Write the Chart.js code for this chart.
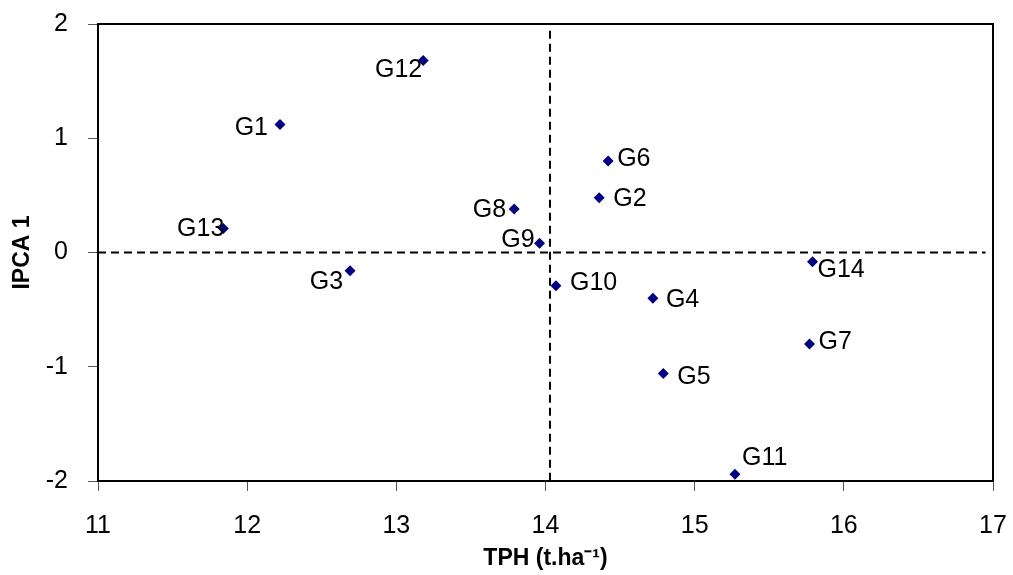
<!DOCTYPE html>
<html>
<head>
<meta charset="utf-8">
<title>IPCA 1 vs TPH</title>
<script src="https://cdn.jsdelivr.net/npm/chart.js@4.4.1/dist/chart.umd.min.js"></script>
<style>
  html, body { margin: 0; padding: 0; background: #fff; }
  #wrap { width: 1013px; height: 575px; }
</style>
</head>
<body>
<div id="wrap"><canvas id="chart" width="1013" height="575"></canvas></div>
<script>
//////////////////////
// Data
//////////////////////
const genotypes = ["G1", "G2", "G3", "G4", "G5", "G6", "G7",
                   "G8", "G9", "G10", "G11", "G12", "G13", "G14"];
const tph  = [12.22, 14.36, 12.69, 14.72, 14.79, 14.42, 15.77,
              13.79, 13.96, 14.07, 15.27, 13.18, 11.84, 15.79];
const ipca = [1.12, 0.48, -0.16, -0.40, -1.06, 0.80, -0.80,
              0.38, 0.08, -0.29, -1.94, 1.68, 0.21, -0.08];

const xTicks = [11, 12, 13, 14, 15, 16, 17];
const yTicks = [-2, -1, 0, 1, 2];

// reference lines: grand mean of TPH and IPCA = 0
const meanTph = 14.03;
const ipcaZero = 0;

//////////////////////
// Where each label sits next to its point (px offset, text align)
//////////////////////
const labelPlace = [
  [-12, 4, "right"],  // G1
  [14, 1, "left"],    // G2
  [-7, 11, "right"],  // G3
  [13, 2, "left"],    // G4
  [14, 4, "left"],    // G5
  [9, -2, "left"],    // G6
  [9, -2, "left"],    // G7
  [-8, 1, "right"],   // G8
  [-5, -3, "right"],  // G9
  [14, -3, "left"],   // G10
  [7, -16, "left"],   // G11
  [-1, 10, "right"],  // G12
  [1, 1, "right"],    // G13
  [5, 8, "left"]      // G14
];

const FONT = "'Liberation Sans', Arial, sans-serif";

//////////////////////
// Plugins: point labels + box frame
//////////////////////
const pointLabels = {
  id: "pointLabels",
  afterDatasetsDraw(chart) {
    const meta = chart.getDatasetMeta(0);
    const ctx = chart.ctx;
    ctx.save();
    ctx.font = "25px " + FONT;
    ctx.fillStyle = "#000";
    ctx.textBaseline = "middle";
    meta.data.forEach((pt, i) => {
      const [dx, dy, align] = labelPlace[i];
      ctx.textAlign = align;
      ctx.fillText(genotypes[i], pt.x + dx, pt.y + dy);
    });
    ctx.restore();
  }
};

const frame = {
  id: "frame",
  afterDraw(chart) {
    const a = chart.chartArea;
    const ctx = chart.ctx;
    ctx.save();
    ctx.strokeStyle = "#000";
    ctx.lineWidth = 2;
    ctx.beginPath();
    ctx.moveTo(a.left, a.top);
    ctx.lineTo(a.right, a.top);
    ctx.lineTo(a.right, a.bottom);
    ctx.stroke();
    ctx.restore();
  }
};

//////////////////////
// Build chart
//////////////////////
const points = tph.map((x, i) => ({ x: x, y: ipca[i] }));

new Chart(document.getElementById("chart"), {
  type: "scatter",
  data: {
    datasets: [
      {
        label: "Genotypes",
        data: points,
        pointStyle: "rectRot",
        pointRadius: 5.5,
        pointHoverRadius: 5.5,
        backgroundColor: "#000080",
        borderColor: "#000080",
        borderWidth: 0
      },
      {
        label: "mean",
        type: "line",
        data: [{ x: meanTph, y: 1.94 }, { x: meanTph, y: -2 }],
        borderColor: "#000",
        borderWidth: 2,
        borderDash: [8, 5],
        pointRadius: 0
      },
      {
        label: "zero",
        type: "line",
        data: [{ x: 11, y: ipcaZero }, { x: 16.95, y: ipcaZero }],
        borderColor: "#000",
        borderWidth: 2,
        borderDash: [8, 5],
        pointRadius: 0
      }
    ]
  },
  options: {
    responsive: false,
    animation: false,
    layout: { padding: { top: 24, right: 20, bottom: 0, left: 0 } },
    plugins: {
      legend: { display: false },
      tooltip: { enabled: false }
    },
    scales: {
      x: {
        type: "linear",
        min: 11,
        max: 17,
        afterBuildTicks: s => { s.ticks = xTicks.map(v => ({ value: v })); },
        afterFit: s => { s.height = 94; s.paddingLeft = 0; s.paddingRight = 0; },
        grid: { display: true, drawOnChartArea: false, drawTicks: true, tickLength: 10, color: "#555", lineWidth: 1 },
        border: { display: true, color: "#000", width: 2 },
        ticks: { color: "#000", padding: 20, font: { family: FONT, size: 25 } },
        title: {
          display: true,
          text: "TPH (t.ha\u207B\u00B9)",
          color: "#000",
          font: { family: FONT, size: 23, weight: "bold" },
          padding: { top: 0, bottom: 3 }
        }
      },
      y: {
        type: "linear",
        min: -2,
        max: 2,
        afterBuildTicks: s => { s.ticks = yTicks.map(v => ({ value: v })); },
        afterFit: s => { s.width = 98; s.paddingTop = 0; s.paddingBottom = 0; },
        grid: { display: true, drawOnChartArea: false, drawTicks: true, tickLength: 10, color: "#555", lineWidth: 1 },
        border: { display: true, color: "#000", width: 2 },
        ticks: { color: "#000", padding: 20, font: { family: FONT, size: 25 } },
        title: {
          display: true,
          text: "IPCA 1",
          color: "#000",
          font: { family: FONT, size: 23, weight: "bold" },
          padding: { top: 9, bottom: 0 }
        }
      }
    }
  },
  plugins: [pointLabels, frame]
});
</script>
</body>
</html>
